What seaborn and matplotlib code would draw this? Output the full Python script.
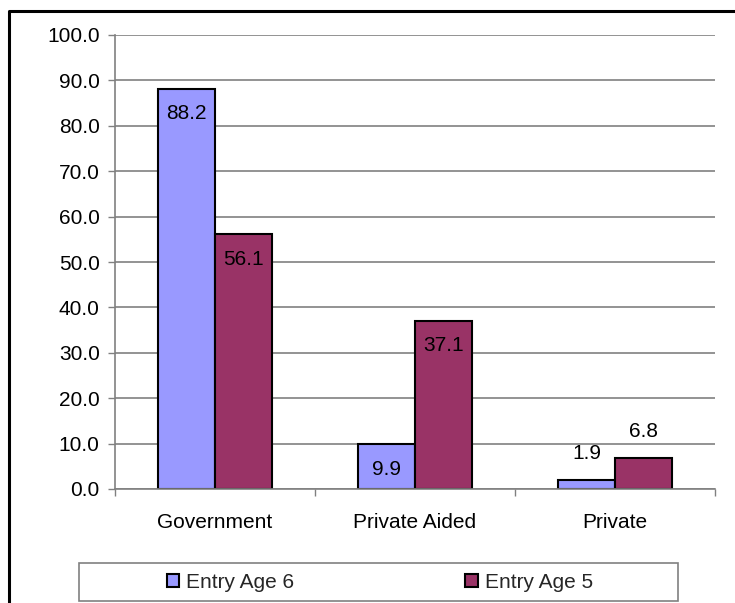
import matplotlib
matplotlib.use("Agg")
import matplotlib.pyplot as plt
import seaborn as sns
import pandas as pd
from matplotlib.patches import Patch, Rectangle
from matplotlib.lines import Line2D

categories = ["Government", "Private Aided", "Private"]
series_names = ["Entry Age 6", "Entry Age 5"]
entry_age_6 = [88.2, 9.9, 1.9]
entry_age_5 = [56.1, 37.1, 6.8]
colors = ["#9999FF", "#993366"]
yticks = [0, 10, 20, 30, 40, 50, 60, 70, 80, 90, 100]

df = pd.DataFrame({
    "category": categories * 2,
    "series": [series_names[0]] * 3 + [series_names[1]] * 3,
    "value": entry_age_6 + entry_age_5,
})

sns.set_theme(style="white")
plt.rcParams["font.family"] = ["Liberation Sans", "DejaVu Sans"]

W, H = 735, 603
fig = plt.figure(figsize=(W / 100, H / 100), dpi=100)
ax = fig.add_axes([115 / W, 1 - 489 / H, 600 / W, 454 / H])

sns.barplot(data=df, x="category", y="value", hue="series", order=categories,
            hue_order=series_names, palette=colors, width=0.57, gap=0,
            edgecolor="black", linewidth=1.5, saturation=1, ax=ax, legend=False)

ax.set_xlim(-0.5, 2.5)
ax.set_ylim(0, 100)
ax.set_yticks(yticks)
ax.set_yticklabels([f"{v:.1f}" for v in yticks], fontsize=15)
ax.yaxis.grid(True, color="#808080", linewidth=1.2)
ax.set_axisbelow(True)
ax.set_xlabel("")
ax.set_ylabel("")
for s in ["top", "right"]:
    ax.spines[s].set_visible(False)
for s in ["left", "bottom"]:
    ax.spines[s].set_color("#808080")
    ax.spines[s].set_linewidth(1.2)
ax.tick_params(axis="y", which="major", length=5, width=1, color="#808080",
               left=True, pad=6, labelcolor="black")
ax.set_xticks(range(len(categories)))
ax.set_xticklabels(categories, fontsize=15)
ax.set_xticks([-0.5, 0.5, 1.5, 2.5], minor=True)
ax.tick_params(axis="x", which="major", length=0, pad=17, labelcolor="black")
ax.tick_params(axis="x", which="minor", length=5, width=1, color="#808080", bottom=True)

# value labels
for cont, vals in zip(ax.containers, [entry_age_6, entry_age_5]):
    for bar, v in zip(cont, vals):
        x = bar.get_x() + bar.get_width() / 2
        top = bar.get_height()
        if v > 9:
            off = -18
        else:
            off = 19
        ax.annotate(f"{v:.1f}", (x, top), xytext=(0, off), textcoords="offset points",
                    ha="center", va="center", fontsize=15, color="black")

# outer frame (top and left visible)
fig.add_artist(Line2D([8.5 / W, 8.5 / W, 1.0], [0.0, 1 - 10.5 / H, 1 - 10.5 / H],
                      transform=fig.transFigure, color="black", linewidth=2.2))

# legend frame
fig.add_artist(Rectangle((79 / W, 1 - 601 / H), 599 / W, 38 / H, transform=fig.transFigure,
                         fill=False, edgecolor="#808080", linewidth=1.2))
handles = [Patch(facecolor=c, edgecolor="black", linewidth=1.5) for c in colors]
fig.legend(handles, series_names, loc="center", bbox_to_anchor=(380 / W, 1 - 582 / H),
           ncol=2, frameon=False, fontsize=15, handlelength=0.6, handleheight=0.6,
           handletextpad=0.35, columnspacing=8.2, borderpad=0)

fig.savefig("out.png", dpi=100)
